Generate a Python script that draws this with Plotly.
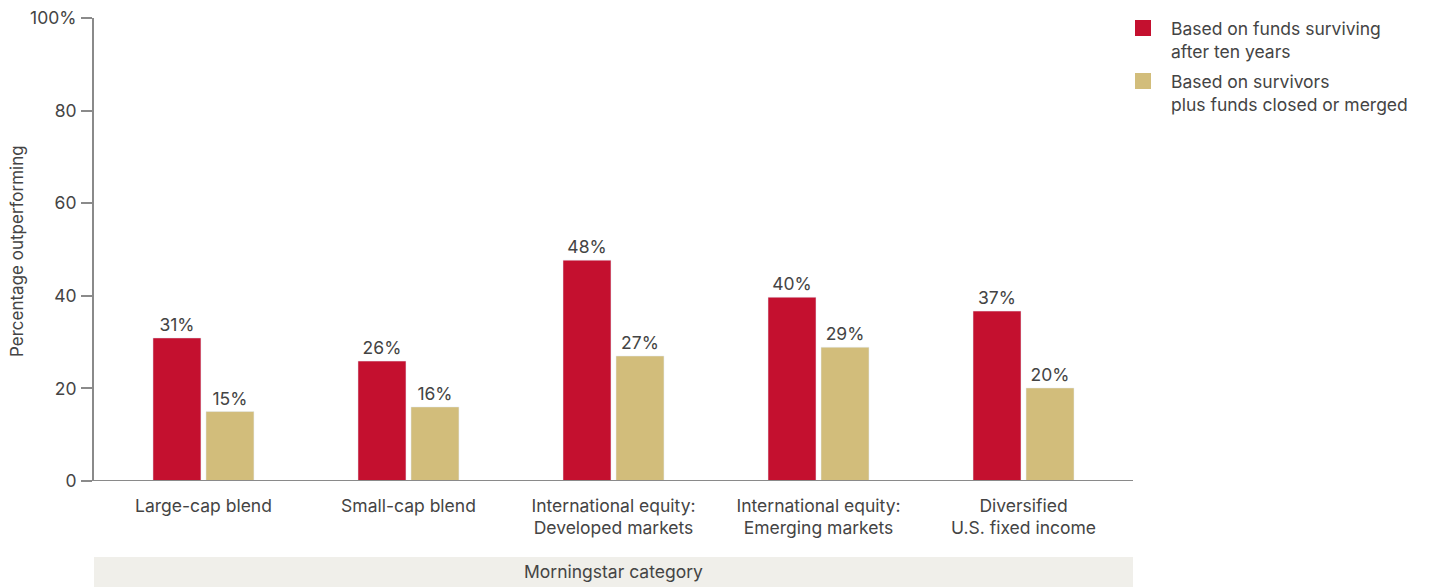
import plotly.graph_objects as go

categories = ["Large-cap blend", "Small-cap blend", "International equity:<br>Developed markets",
              "International equity:<br>Emerging markets", "Diversified<br>U.S. fixed income"]
surviving = [30.9, 25.9, 47.7, 39.7, 36.7]
with_closed = [15.0, 16.0, 27.0, 28.9, 20.1]
series_names = ["Based on funds surviving<br>after ten years",
                "Based on survivors<br>plus funds closed or merged"]
y_ticks = [0, 20, 40, 60, 80, 100]
y_tick_labels = ["0", "20", "40", "60", "80", "100%"]

RED = "#C4102F"
TAN = "#D2BD7B"
TXT = "#444444"
FONT = "Inter"
FS = 17.5

x = list(range(len(categories)))
fig = go.Figure()
fig.add_trace(go.Bar(x=x, y=surviving, name=series_names[0], marker_color=RED,
                     width=0.234, offset=-0.2463,
                     texttemplate="%{y:.0f}%", textposition="outside",
                     textfont=dict(size=FS, color=TXT, family=FONT), cliponaxis=False))
fig.add_trace(go.Bar(x=x, y=with_closed, name=series_names[1], marker_color=TAN,
                     width=0.234, offset=0.0122,
                     texttemplate="%{y:.0f}%", textposition="outside",
                     textfont=dict(size=FS, color=TXT, family=FONT), cliponaxis=False))

fig.update_layout(
    width=1429, height=587,
    margin=dict(l=94, r=296, t=18, b=106, autoexpand=False),
    plot_bgcolor="white", paper_bgcolor="white",
    font=dict(family=FONT, size=FS, color=TXT),
    showlegend=False,
    barmode="overlay",
)
fig.update_xaxes(range=[-0.534, 4.534], tickvals=x, ticktext=categories, automargin=False,
                 showgrid=False, zeroline=False, showline=False, ticks="",
                 tickfont=dict(size=FS, color=TXT), ticklabelstandoff=12)
fig.update_yaxes(range=[0, 100], tickvals=y_ticks, ticktext=y_tick_labels, automargin=False,
                 showgrid=False, zeroline=False, showline=True, linecolor="#8a8a8a", linewidth=2,
                 ticks="outside", ticklen=11, tickcolor="#8a8a8a", tickwidth=1.5,
                 tickfont=dict(size=FS, color=TXT), ticklabelstandoff=1)

# y axis title
fig.add_annotation(xref="paper", yref="paper", x=(17 - 94) / 1039, y=(481 - 251) / 463,
                   text="Percentage outperforming", textangle=-90, showarrow=False,
                   xanchor="center", yanchor="middle", font=dict(size=17, color=TXT))
# x axis baseline extended left to the tick start
fig.add_shape(type="line", xref="paper", yref="y", x0=-0.0106, x1=1, y0=0, y1=0,
              line=dict(color="#8a8a8a", width=2), layer="above")
# category band
fig.add_shape(type="rect", xref="paper", yref="paper", x0=0, x1=1, y0=-0.229, y1=-0.164,
              fillcolor="#F0EFEA", line=dict(width=0), layer="below")
fig.add_annotation(xref="paper", yref="paper", x=0.5, y=-0.1965, text="Morningstar category",
                   showarrow=False, font=dict(size=FS, color=TXT), xanchor="center", yanchor="middle")

# legend
leg_colors = [RED, TAN]
leg_tops = [20, 73]
for c, top, name in zip(leg_colors, leg_tops, series_names):
    y0 = (481 - top - 16) / 463
    y1 = (481 - top) / 463
    fig.add_shape(type="rect", xref="paper", yref="paper",
                  x0=(1135 - 94) / 1039, x1=(1151 - 94) / 1039, y0=y0, y1=y1,
                  fillcolor=c, line=dict(width=0))
    fig.add_annotation(xref="paper", yref="paper", x=(1169 - 94) / 1039, y=(481 - top + 4) / 463,
                       text=name, showarrow=False, xanchor="left", yanchor="top", align="left",
                       font=dict(size=FS, color=TXT))

fig.write_html("out.html", config={"displayModeBar": False},
               post_script="document.body.style.margin='0';")
